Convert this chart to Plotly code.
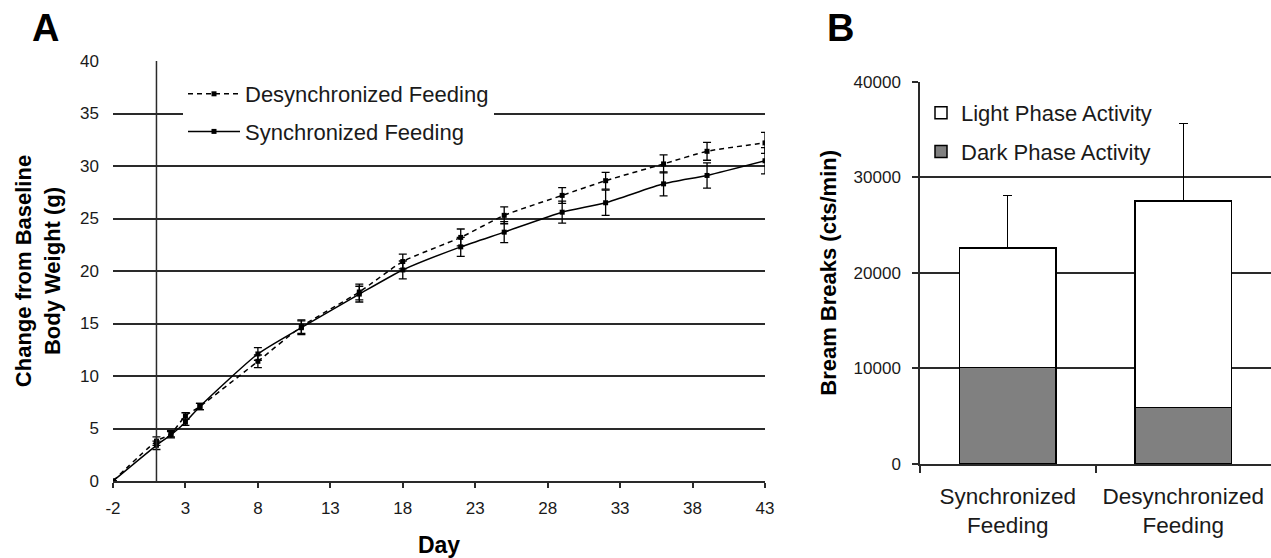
import plotly.graph_objects as go

# ---------------- Data: Panel A ----------------
days = [-2, 1, 2, 3, 4, 8, 11, 15, 18, 22, 25, 29, 32, 36, 39, 43]
desync_weight = [0, 3.8, 4.5, 6.2, 7.1, 11.4, 14.7, 18.0, 20.9, 23.2, 25.3, 27.2, 28.6, 30.2, 31.4, 32.2]
desync_err = [0, 0.4, 0.3, 0.3, 0.3, 0.6, 0.65, 0.75, 0.7, 0.8, 0.8, 0.75, 0.8, 0.85, 0.85, 1.0]
sync_weight = [0, 3.4, 4.4, 5.6, 7.1, 12.1, 14.6, 17.8, 20.1, 22.3, 23.7, 25.6, 26.5, 28.3, 29.1, 30.5]
sync_err = [0, 0.4, 0.3, 0.3, 0.3, 0.6, 0.65, 0.75, 0.85, 0.9, 1.0, 1.05, 1.2, 1.15, 1.2, 1.25]
y_axis_cross_day = 1
x_ticks_a = [-2, 3, 8, 13, 18, 23, 28, 33, 38, 43]
y_ticks_a = [0, 5, 10, 15, 20, 25, 30, 35, 40]

# ---------------- Data: Panel B ----------------
groups = ["Synchronized<br>Feeding", "Desynchronized<br>Feeding"]
dark_phase = [10100, 5900]
light_phase = [12500, 21600]
total_err = [5500, 8100]
y_ticks_b = [0, 10000, 20000, 30000, 40000]

FONT = "Liberation Sans, Arial, sans-serif"
TXT = "#1a1a1a"
GRID = "#2a2a2a"

fig = go.Figure()

# Panel A traces
fig.add_trace(go.Scatter(
    x=days, y=desync_weight, name="Desynchronized Feeding",
    mode="lines+markers", line=dict(color="black", width=1.5, dash="5px,4px", shape="spline", smoothing=0.6),
    marker=dict(symbol="square", size=5, color="black"),
    error_y=dict(type="data", array=desync_err, color="black", thickness=1.3, width=4),
    xaxis="x", yaxis="y", legend="legend", legendgroup="d", legendrank=1,
))
fig.add_trace(go.Scatter(
    x=days, y=sync_weight, name="Synchronized Feeding",
    mode="lines+markers", line=dict(color="black", width=1.5, shape="spline", smoothing=0.6),
    marker=dict(symbol="square", size=5, color="black"),
    error_y=dict(type="data", array=sync_err, color="black", thickness=1.3, width=4),
    xaxis="x", yaxis="y", legend="legend", legendgroup="s", legendrank=2,
))

# Panel B traces
fig.add_trace(go.Bar(
    x=groups, y=dark_phase, name="Dark Phase Activity",
    marker=dict(color="#808080", line=dict(color="black", width=1.5)),
    width=0.55, xaxis="x2", yaxis="y2", legend="legend2", legendgroup="dark", legendrank=2,
))
fig.add_trace(go.Bar(
    x=groups, y=light_phase, name="Light Phase Activity",
    marker=dict(color="white", line=dict(color="black", width=1.5)),
    width=0.55, xaxis="x2", yaxis="y2", legend="legend2", legendgroup="light", legendrank=1,
    error_y=dict(type="data", symmetric=False, array=total_err, arrayminus=[0, 0],
                 color="black", thickness=1.3, width=4.5),
))

fig.update_layout(
    width=1271, height=558,
    margin=dict(l=0, r=0, t=0, b=0, autoexpand=False),
    paper_bgcolor="white", plot_bgcolor="white",
    font=dict(family=FONT, color=TXT, size=17),
    barmode="stack",
    showlegend=True,
    xaxis=dict(
        domain=[113 / 1271, 765 / 1271], range=[-2, 43], tickmode="array", tickvals=x_ticks_a,
        ticktext=[str(v) for v in x_ticks_a],
        showgrid=False, zeroline=False, showline=True, linecolor=GRID, linewidth=1.5,
        ticks="outside", ticklen=5, tickcolor=GRID, tickwidth=1.5, ticklabelstandoff=6,
        tickfont=dict(size=17), anchor="y", automargin=False,
        title=dict(text="<b>Day</b>", font=dict(size=23, color="black"), standoff=32),
    ),
    yaxis=dict(
        domain=[77 / 558, 497 / 558], range=[0, 40], tickmode="array", tickvals=y_ticks_a,
        ticktext=[str(v) for v in y_ticks_a],
        showgrid=True, gridcolor=GRID, gridwidth=1.5, zeroline=False, showline=False,
        ticks="", tickfont=dict(size=17), anchor="x", automargin=False, ticklabelstandoff=13,
        title=dict(text="<b>Change from Baseline<br>Body Weight (g)</b>", font=dict(size=22, color="black"), standoff=13),
    ),
    xaxis2=dict(
        domain=[920 / 1271, 1.0], anchor="y2", type="category", automargin=False,
        showgrid=False, zeroline=False, showline=True, linecolor=GRID, linewidth=1.5,
        ticks="outside", tickson="boundaries", ticklen=7, tickcolor=GRID, tickwidth=1.5,
        ticklabelstandoff=11, tickfont=dict(size=22.5),
    ),
    yaxis2=dict(
        domain=[94 / 558, 476.3 / 558], range=[0, 40000], tickmode="array", tickvals=y_ticks_b,
        ticktext=[str(v) for v in y_ticks_b],
        showgrid=True, gridcolor=GRID, gridwidth=1.5, zeroline=False, showline=True,
        linecolor=GRID, linewidth=1.5, ticks="outside", ticklen=6, tickcolor=GRID, tickwidth=1.5,
        tickfont=dict(size=17), anchor="x2", automargin=False, ticklabelstandoff=8,
        title=dict(text="<b>Bream Breaks (cts/min)</b>", font=dict(size=22, color="black"), standoff=11),
    ),
    legend=dict(
        x=183 / 1271, y=1 - 73 / 558, xanchor="left", yanchor="top",
        bgcolor="white", borderwidth=0, font=dict(size=22, color=TXT),
        itemwidth=52, traceorder="grouped", tracegroupgap=6,
    ),
    legend2=dict(
        x=921 / 1271, y=1 - 92 / 558, xanchor="left", yanchor="top",
        bgcolor="rgba(0,0,0,0)", borderwidth=0, font=dict(size=22, color=TXT),
        itemwidth=30, traceorder="grouped", tracegroupgap=7,
    ),
    shapes=[
        dict(type="line", xref="x", yref="y domain", x0=y_axis_cross_day, x1=y_axis_cross_day,
             y0=0, y1=1, line=dict(color=GRID, width=1.5), layer="above"),
    ],
    annotations=[
        dict(text="<b>A</b>", xref="paper", yref="paper", x=45 / 1271, y=1 - 28 / 558,
             showarrow=False, font=dict(size=38, color="black"), xanchor="center", yanchor="middle"),
        dict(text="<b>B</b>", xref="paper", yref="paper", x=840 / 1271, y=1 - 28 / 558,
             showarrow=False, font=dict(size=38, color="black"), xanchor="center", yanchor="middle"),
    ],
)

fig.write_html("out.html")
